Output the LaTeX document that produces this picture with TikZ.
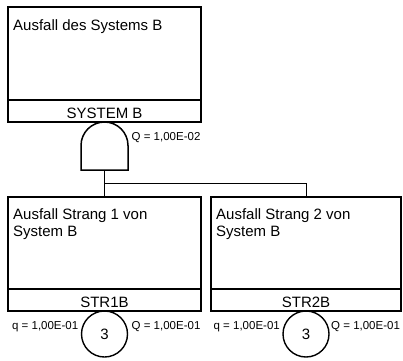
\documentclass[tikz,border=0pt]{standalone}
\usepackage{fontspec}
\setmainfont{Liberation Sans}
\usetikzlibrary{positioning}

\begin{document}
\begin{tikzpicture}[x=1pt,y=1pt,
    evbox/.style={draw, line width=1.5pt, minimum height=92pt, inner sep=0pt, outer sep=0pt, anchor=north west},
    idbox/.style={draw, line width=1.5pt, minimum height=22pt, inner sep=0pt, outer sep=0pt, anchor=north west,
      text height=14pt, text depth=0pt, font=\fontsize{15}{17}\selectfont},
    evtext/.style={inner sep=0pt, align=left, font=\fontsize{15}{17}\selectfont},
    prob/.style={inner sep=0pt, font=\fontsize{11.5}{13}\selectfont},
    transfer/.style={draw, circle, line width=1.4pt, minimum size=46pt, inner sep=0pt, outer sep=0pt, anchor=north, font=\fontsize{15}{17}\selectfont},
    gate/.style={draw, line width=1.5pt},
    conn/.style={draw, line width=1pt}]

      \useasboundingbox (0,0) rectangle (403,-360);

      % Top event
      \node[evbox, minimum width=193pt, minimum height=93pt] (sysB) at (8,-7) {};
      \node[evtext, below right=12pt and 5pt of sysB.north west] (sysBtxt) {Ausfall des Systems B};
      \node[idbox, minimum width=193pt] (sysBid) at (sysB.south west) {SYSTEM B};

      % AND gate
      \coordinate (andtop) at (sysBid.south);
      \draw[gate] (andtop) ++(-23.5,-48) -- ++(0,24.5)
        arc[start angle=180, end angle=0, radius=23.5] -- ++(0,-24.5) -- cycle;
      \coordinate (andout) at ([yshift=-48pt]andtop);
      \node[prob, anchor=west] (Qsys) at ([shift={(27,-16)}]andtop) {Q = 1,00E-02};

      % Strang 1
      \node[evbox, minimum width=193pt] (str1) at (8,-197) {};
      \node[evtext, below right=11pt and 5pt of str1.north west] (str1txt) {Ausfall Strang 1 von\\System B};
      \node[idbox, minimum width=193pt] (str1id) at (str1.south west) {STR1B};
      \node[transfer] (tr1) at (str1id.south) {3};
      \node[prob, anchor=east] (q1) at ([shift={(-3,7)}]tr1.west) {q = 1,00E-01};
      \node[prob, anchor=west] (Q1) at ([shift={(4,7)}]tr1.east) {Q = 1,00E-01};

      % Strang 2
      \node[evbox, minimum width=190pt] (str2) at (211,-197) {};
      \node[evtext, below right=11pt and 5pt of str2.north west] (str2txt) {Ausfall Strang 2 von\\System B};
      \node[idbox, minimum width=190pt] (str2id) at (str2.south west) {STR2B};
      \node[transfer] (tr2) at (str2id.south) {3};
      \node[prob, anchor=east] (q2) at ([shift={(-3,7)}]tr2.west) {q = 1,00E-01};
      \node[prob, anchor=west] (Q2) at ([shift={(2,7)}]tr2.east) {Q = 1,00E-01};

      % Connections
      \coordinate (branch) at ([yshift=-13pt]andout);
      \draw[conn] (andout) -- (str1.north);
      \draw[conn] (branch) -| (str2.north);

\end{tikzpicture}
\end{document}
